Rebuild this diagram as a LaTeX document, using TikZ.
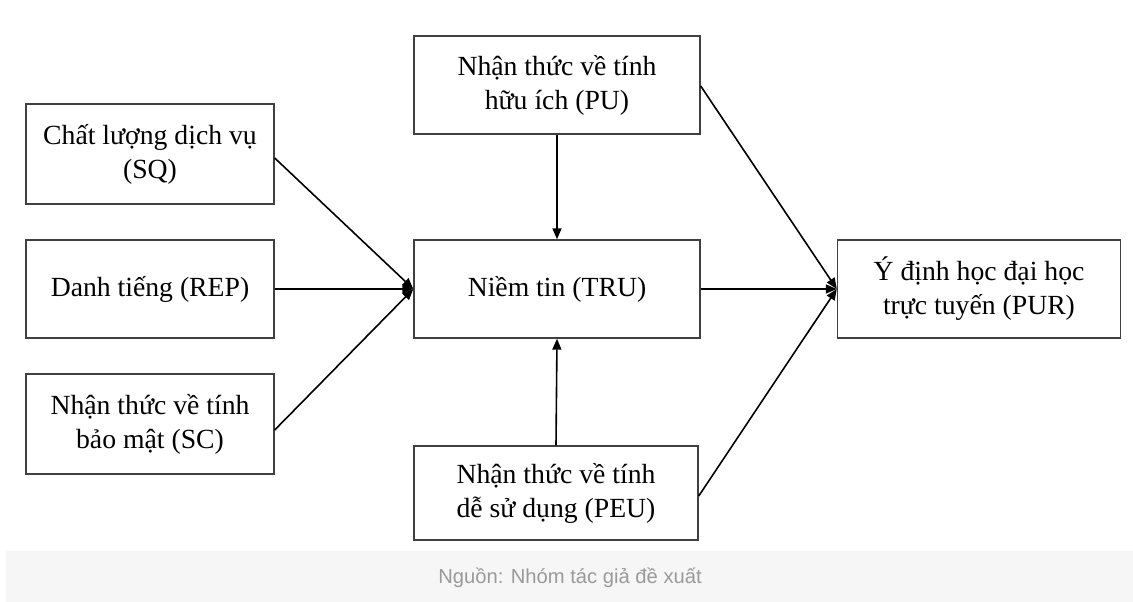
\documentclass[tikz,border=0pt]{standalone}
\usepackage{fontspec}
\setmainfont{Liberation Serif}
\newfontfamily\capfont{Liberation Sans}
\usetikzlibrary{arrows.meta}
\definecolor{bandgray}{HTML}{F6F6F6}
\definecolor{capgray}{HTML}{9A9A9A}
\begin{document}
\begin{tikzpicture}[x=1pt,y=-1pt,
  boxnode/.style={draw=black!75,line width=1.4pt,fill=white,inner sep=0pt,align=center,
    font=\fontsize{27.7}{34}\selectfont},
  conn/.style={line width=1.6pt,-{Triangle[length=11pt,width=9pt]}}]
\useasboundingbox (0,0) rectangle (1133,602);
\fill[bandgray] (6,551) rectangle (1133,602);
\node[text=capgray,font=\capfont\fontsize{20.2}{24}\selectfont] (cap) at (570,578) {Nguồn: Nhóm tác giả đề xuất};
\node[boxnode,minimum width=248pt,minimum height=100pt] (sq) at (150,154) {Chất lượng dịch vụ\\(SQ)};
\node[boxnode,minimum width=248pt,minimum height=98pt] (rep) at (150,289) {Danh tiếng (REP)};
\node[boxnode,minimum width=248pt,minimum height=100pt] (sc) at (150,424) {Nhận thức về tính\\bảo mật (SC)};
\node[boxnode,minimum width=286pt,minimum height=98pt] (pu) at (557,85) {Nhận thức về tính\\hữu ích (PU)};
\node[boxnode,minimum width=286pt,minimum height=98pt] (tru) at (557,289) {Niềm tin (TRU)};
\node[boxnode,minimum width=284pt,minimum height=94pt] (peu) at (556,493) {Nhận thức về tính\\dễ sử dụng (PEU)};
\node[boxnode,minimum width=283pt,minimum height=98pt] (pur) at (979,289) {Ý định học đại học\\trực tuyến (PUR)};
\draw[conn] ([yshift=-4pt]sq.east) -- (tru.west);
\draw[conn] (rep.east) -- (tru.west);
\draw[conn] ([yshift=-6pt]sc.east) -- (tru.west);
\draw[conn] (pu.south) -- (tru.north);
\draw[conn] (peu.north) -- (tru.south);
\draw[conn] (tru.east) -- (pur.west);
\draw[conn] ([yshift=-1pt]pu.east) -- (pur.west);
\draw[conn] ([yshift=-3pt]peu.east) -- (pur.west);
\end{tikzpicture}
\end{document}
